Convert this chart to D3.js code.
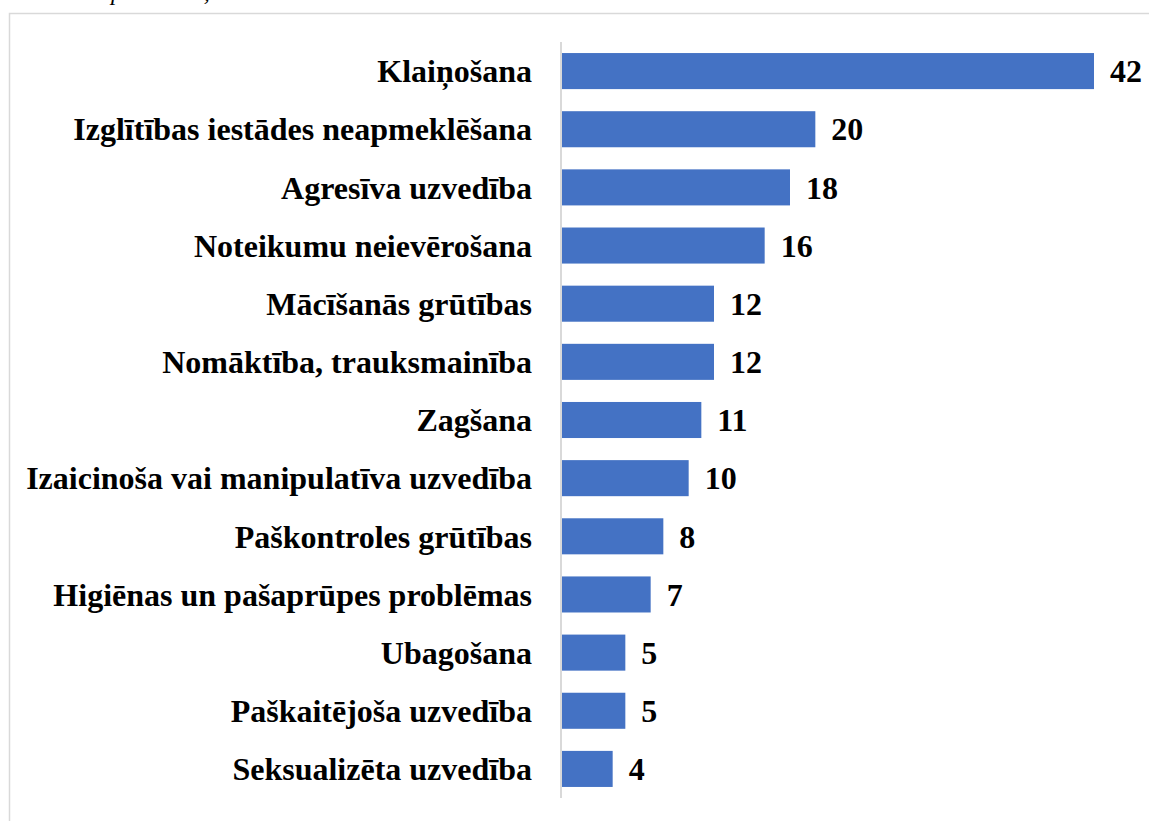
<!DOCTYPE html>
<html>
<head>
<meta charset="utf-8">
<script src="https://cdn.jsdelivr.net/npm/d3@7"></script>
<style>
    body { margin: 0; background: #fff; }
    svg { display: block; }
</style>
</head>
<body>
<div id="chart"></div>
<script>
// Data
const categories = [
    "Klaiņošana",
    "Izglītības iestādes neapmeklēšana",
    "Agresīva uzvedība",
    "Noteikumu neievērošana",
    "Mācīšanās grūtības",
    "Nomāktība, trauksmainība",
    "Zagšana",
    "Izaicinoša vai manipulatīva uzvedība",
    "Paškontroles grūtības",
    "Higiēnas un pašaprūpes problēmas",
    "Ubagošana",
    "Paškaitējoša uzvedība",
    "Seksualizēta uzvedība"
];
const values = [42, 20, 18, 16, 12, 12, 11, 10, 8, 7, 5, 5, 4];

const W = 1149, H = 821;
const font = "'Liberation Serif', 'Times New Roman', serif";

const svg = d3.select("#chart").append("svg")
    .attr("width", W)
    .attr("height", H);

// caption cut off at the top edge, only descenders show
svg.append("text")
    .attr("x", 99)
    .attr("y", 0)
    .style("font-family", font)
    .style("font-style", "italic")
    .style("font-size", "24px")
    .text("ap veidiem, n");

// chart area border (continues past the right and bottom edges)
svg.append("rect")
    .attr("x", 9.5)
    .attr("y", 13.5)
    .attr("width", W + 20)
    .attr("height", H + 20)
    .attr("fill", "none")
    .attr("stroke", "#d9d9d9")
    .attr("stroke-width", 1.5);

const x0 = 562;
const x = d3.scaleLinear()
    .domain([0, 42])
    .range([x0, 1094]);

const y = d3.scaleBand()
    .domain(categories)
    .range([42, 798])
    .paddingInner(0.38)
    .paddingOuter(0.19);

// bars
svg.selectAll(".bar")
    .data(values)
    .enter().append("rect")
    .attr("class", "bar")
    .attr("x", x(0))
    .attr("y", (d, i) => y(categories[i]))
    .attr("width", d => x(d) - x(0))
    .attr("height", y.bandwidth())
    .attr("fill", "#4472c4");

// vertical axis line
svg.append("line")
    .attr("x1", x0 - 1)
    .attr("x2", x0 - 1)
    .attr("y1", 42)
    .attr("y2", 798)
    .attr("stroke", "#d9d9d9")
    .attr("stroke-width", 2);

// category labels
svg.selectAll(".cat")
    .data(categories)
    .enter().append("text")
    .attr("class", "cat")
    .attr("x", x0 - 30)
    .attr("y", d => y(d) + y.bandwidth() / 2)
    .attr("dy", "0.35em")
    .attr("text-anchor", "end")
    .style("font-family", font)
    .style("font-weight", "bold")
    .style("font-size", "32px")
    .text(d => d);

// value labels
svg.selectAll(".val")
    .data(values)
    .enter().append("text")
    .attr("class", "val")
    .attr("x", d => x(d) + 16)
    .attr("y", (d, i) => y(categories[i]) + y.bandwidth() / 2)
    .attr("dy", "0.35em")
    .style("font-family", font)
    .style("font-weight", "bold")
    .style("font-size", "32px")
    .text(d => d);
</script>
</body>
</html>
